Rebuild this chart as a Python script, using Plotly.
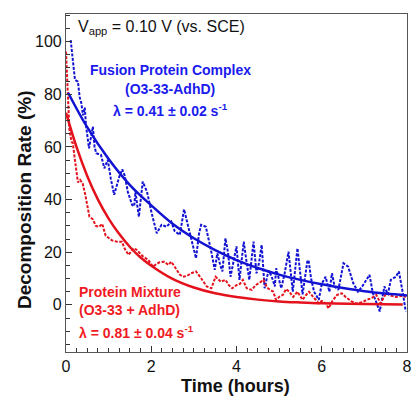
import plotly.graph_objects as go

# ---------------- data ----------------
blue_t = [0.11, 0.17, 0.21, 0.28, 0.32, 0.36, 0.40, 0.44, 0.47, 0.54, 0.59, 0.63, 0.67, 0.71,
          0.82, 0.90, 0.98, 1.05, 1.13, 1.25, 1.32, 1.38, 1.45, 1.55, 1.60, 1.63, 1.67, 1.71,
          1.80, 1.85, 1.90, 2.01, 2.13, 2.24, 2.36, 2.47, 2.55, 2.67, 2.77, 2.84, 2.90, 2.97,
          3.05, 3.12, 3.17, 3.28, 3.35, 3.40, 3.49, 3.55, 3.62, 3.67, 3.74, 3.80, 3.86, 3.93,
          4.00, 4.07, 4.17, 4.23, 4.30, 4.40, 4.47, 4.53, 4.59, 4.66, 4.75, 4.82, 4.90, 4.93,
          5.05, 5.13, 5.22, 5.32, 5.43, 5.55, 5.66, 5.69, 5.75, 5.82, 5.93, 6.00, 6.09, 6.18,
          6.24, 6.30, 6.39, 6.51, 6.62, 6.74, 6.85, 6.95, 7.05, 7.12, 7.20, 7.28, 7.36, 7.47,
          7.55, 7.62, 7.74, 7.81, 7.85, 7.91, 7.97]
blue_v = [100.6, 91.8, 85.5, 84.8, 79.0, 76.6, 72.0, 75.0, 68.0, 59.5, 64.0, 67.7, 60.0, 57.6,
          57.0, 51.9, 55.1, 48.0, 41.8, 48.7, 51.5, 49.0, 43.0, 38.0, 37.5, 43.0, 38.0, 33.5,
          46.8, 45.0, 43.0, 34.8, 27.2, 30.4, 29.7, 31.6, 28.0, 26.6, 36.3, 31.6, 27.8, 23.4,
          17.7, 27.0, 30.4, 29.7, 25.0, 20.9, 13.3, 19.6, 15.0, 12.7, 25.3, 20.0, 10.7, 16.0,
          22.2, 9.5, 24.0, 17.0, 9.5, 24.0, 12.0, 16.0, 22.8, 6.3, 13.0, 11.0, 7.0, 13.9,
          6.3, 12.0, 20.2, 5.0, 21.5, 4.0, 16.4, 17.0, 10.0, 5.0, 1.9, 8.0, 10.7, 5.0,
          12.0, 7.0, 5.7, 15.8, 14.5, 8.2, 5.0, 7.0, 9.5, 11.4, 4.4, 1.0, -2.5, 7.0,
          4.0, 9.5, 10.7, 12.7, 9.5, 3.8, -2.5]

red_t = [0.00, 0.02, 0.03, 0.05, 0.08, 0.13, 0.16, 0.21, 0.28, 0.33, 0.39, 0.45, 0.51, 0.55,
         0.63, 0.70, 0.78, 0.85, 0.93, 1.00, 1.08, 1.20, 1.31, 1.39, 1.47, 1.58, 1.65, 1.70,
         1.80, 1.93, 2.04, 2.12, 2.20, 2.31, 2.40, 2.47, 2.59, 2.67, 2.74, 2.84, 2.93, 3.05,
         3.17, 3.30, 3.41, 3.51, 3.63, 3.74, 3.82, 3.90, 4.00, 4.08, 4.15, 4.24, 4.36, 4.45,
         4.55, 4.63, 4.72, 4.86, 4.93, 5.00, 5.09, 5.16, 5.24, 5.33, 5.43, 5.55, 5.62, 5.70,
         5.80, 5.93, 6.00, 6.09, 6.16, 6.25, 6.36, 6.47, 6.56, 6.70, 6.82, 6.95, 7.05, 7.16,
         7.28, 7.38, 7.51, 7.62, 7.74, 7.89, 7.97]
red_v = [96.2, 88.0, 80.0, 72.0, 66.5, 62.0, 61.4, 55.0, 46.5, 47.5, 46.2, 42.0, 37.0, 33.5,
         32.5, 30.0, 29.7, 30.8, 26.3, 25.5, 24.5, 24.0, 24.0, 20.9, 19.0, 21.5, 21.0, 20.2,
         18.5, 17.1, 14.5, 15.5, 16.2, 16.4, 15.2, 16.4, 13.3, 11.5, 10.7, 11.0, 12.0, 12.7,
         10.1, 7.0, 6.3, 10.7, 8.8, 9.5, 7.5, 6.3, 7.5, 8.0, 9.5, 6.3, 5.7, 7.5,
         8.5, 9.5, 6.5, 5.0, 1.9, 3.0, 3.8, 6.0, 5.0, 3.0, 5.0, 1.9, 3.5, 5.0,
         3.0, 0.6, 1.5, 0.6, -1.3, 1.5, 3.8, 4.4, 3.0, 1.3, 0.5, 1.0, 1.9, 2.5,
         3.8, 0.6, 4.4, 3.5, 3.0, 3.5, 3.0]

blue_fit_t = [0.05, 0.5, 1.0, 1.5, 2.0, 2.5, 3.0, 3.5, 4.0, 4.5, 5.0, 5.5, 6.0, 6.5, 7.0, 7.5, 8.0]
blue_fit_v = [80.6, 67.4, 55.4, 45.5, 37.8, 30.8, 25.3, 20.8, 17.0, 14.0, 11.5, 9.5, 7.8, 6.4, 5.2, 4.3, 3.6]

red_fit_t = [0.0, 0.25, 0.5, 0.75, 1.0, 1.25, 1.5, 1.75, 2.0, 2.5, 3.0, 3.5, 4.0, 4.5, 5.0, 5.5, 6.0, 7.0, 7.9]
red_fit_v = [73.0, 59.8, 48.9, 40.0, 32.8, 26.9, 22.0, 18.0, 14.9, 9.9, 6.6, 4.4, 3.0, 2.0, 1.3, 0.9, 0.6, 0.3, 0.1]

x_ticks = [0, 2, 4, 6, 8]
y_ticks = [0, 20, 40, 60, 80, 100]

BLUE = "#1212d2"
BLUE_TXT = "#1a1aee"
RED = "#e3121c"
RED_TXT = "#f01a24"
FONT = "Liberation Sans, Arial, sans-serif"

fig = go.Figure()
fig.add_trace(go.Scatter(x=blue_t, y=blue_v, mode="lines",
                         line=dict(color=BLUE, width=2, dash="3px,1.5px"), showlegend=False))
fig.add_trace(go.Scatter(x=red_t, y=red_v, mode="lines",
                         line=dict(color=RED, width=2, dash="3px,1.5px"), showlegend=False))
fig.add_trace(go.Scatter(x=blue_fit_t, y=blue_fit_v, mode="lines", line_shape="spline",
                         line=dict(color=BLUE, width=2.5), showlegend=False))
fig.add_trace(go.Scatter(x=red_fit_t, y=red_fit_v, mode="lines", line_shape="spline",
                         line=dict(color=RED, width=2.5), showlegend=False))

axis_common = dict(showline=True, linecolor="#555", linewidth=1.2, mirror=True,
                   showgrid=False, zeroline=False, ticks="inside", ticklen=6,
                   tickcolor="#333", tickwidth=1, ticklabeloverflow="allow",
                   tickfont=dict(family=FONT, size=16, color="#111"))

fig.update_xaxes(range=[0, 8], tickvals=x_ticks, ticktext=[str(v) for v in x_ticks],
                 minor=dict(dtick=0.25, ticks="inside", ticklen=4, tickcolor="#333"),
                 **axis_common)
fig.update_yaxes(range=[-17.9, 110.5], tickvals=y_ticks, ticktext=[str(v) for v in y_ticks],
                 minor=dict(dtick=5, ticks="inside", ticklen=4, tickcolor="#333"),
                 **axis_common)

# plot area targeted at page x 66..412, y 14..352
ann = []
ann.append(dict(text="<b>Decomposition Rate (%)</b>", xref="paper", yref="paper",
                x=0, y=(352 - 200) / 338, xshift=-41, textangle=-90, showarrow=False,
                xanchor="center", yanchor="middle",
                font=dict(family=FONT, size=19, color="#111")))
ann.append(dict(text="<b>Time (hours)</b>", xref="paper", yref="paper",
                x=(237.5 - 66) / 346, y=(352 - 386) / 338, showarrow=False,
                xanchor="center", yanchor="middle",
                font=dict(family=FONT, size=18, color="#111")))
ann.append(dict(text="V<sub>app</sub> = 0.10 V (vs. SCE)", xref="paper", yref="paper",
                x=(76 - 66) / 346, y=(352 - 28) / 338, showarrow=False,
                xanchor="left", yanchor="middle",
                font=dict(family=FONT, size=16, color="#111")))
for txt, py in [("<b>Fusion Protein Complex</b>", 70), ("<b>(O3-33-AdhD)</b>", 89),
                ("<b>λ = 0.41 ± 0.02 s<sup>-1</sup></b>", 110)]:
    ann.append(dict(text=txt, xref="paper", yref="paper", x=(172 - 66) / 346,
                    y=(352 - py) / 338, showarrow=False, xanchor="center", yanchor="middle",
                    font=dict(family=FONT, size=14, color=BLUE_TXT)))
for txt, py in [("<b>Protein Mixture</b>", 292), ("<b>(O3-33 + AdhD)</b>", 310),
                ("<b>λ = 0.81 ± 0.04 s<sup>-1</sup></b>", 332)]:
    ann.append(dict(text=txt, xref="paper", yref="paper", x=(77 - 66) / 346,
                    y=(352 - py) / 338, showarrow=False, xanchor="left", yanchor="middle",
                    font=dict(family=FONT, size=14, color=RED_TXT)))

fig.update_layout(width=413, height=396, margin=dict(l=66, r=1, t=14, b=44),
                  plot_bgcolor="white", paper_bgcolor="white", annotations=ann,
                  font=dict(family=FONT))

fig.write_html("out.html", config={"displayModeBar": False},
               post_script="document.body.style.margin='0';"
                           "document.documentElement.style.overflow='hidden';"
                           "document.body.style.overflow='hidden';")
